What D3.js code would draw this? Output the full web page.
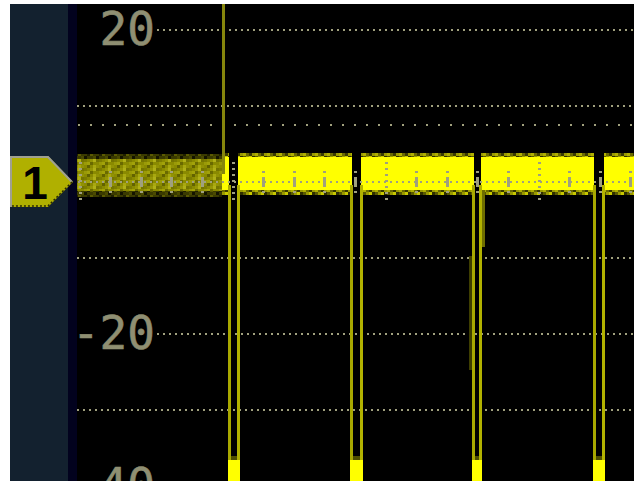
<!DOCTYPE html>
<html>
<head>
<meta charset="utf-8">
<script src="https://cdn.jsdelivr.net/npm/d3@7"></script>
<style>
html,body{margin:0;padding:0;background:#fff;}
svg{display:block;}
</style>
</head>
<body>
<svg id="chart" width="634" height="481"></svg>
<script>
// ---- data ----
const gridLevels = [20, 10, 0, -10, -20, -30, -40];     // V, dotted graticule lines
const labelLevels = [20, -20, -40];                      // labelled levels
const labelTexts = ["20", "-20", "-40"];
const cursorLevel = 7.5;                                 // sparse dotted cursor line
const highLevel = 1.1;                                   // idle level of the trace (V)
const lowLevel = -39;                                    // clipped low level during dips (V)
const persistEnd = 0.93;                                 // end of dim persistence region (div)
const triggerTime = 0.94;                                // upward spike (div)
const fallTimes = [0.980, 1.781, 2.578, 3.366];          // falling edges (div)
const riseTimes = [1.039, 1.843, 2.621, 3.425];          // rising edges (div)
const majorTicks = [0, 1, 2, 3];                         // major graticule columns (div)
const minorTicks = [0.2,0.4,0.6,0.8,1.2,1.4,1.6,1.8,2.2,2.4,2.6,2.8,3.2,3.4,3.6];
// afterglow streaks near the third dip: [time(div), top V, bottom V, colour]
const streaks = [
  {t: 2.642, top: -1.0, bottom: -8.6, color: "#6e6e00"},
  {t: 2.558, top: -9.8, bottom: -24.8, color: "#3e3e00"}
];

// ---- layout ----
const svg = d3.select("#chart");
const plotLeft = 77, plotTop = 4, plotRight = 634, plotBottom = 481;
const x = d3.scaleLinear().domain([0, 1]).range([79.5, 232.5]);
const y = d3.scaleLinear().domain([20, -20]).range([30, 334]);

const defs = svg.append("defs");
defs.append("clipPath").attr("id", "plotclip")
  .append("rect").attr("x", plotLeft).attr("y", plotTop).attr("width", plotRight - plotLeft).attr("height", plotBottom - plotTop);
// speckle textures for the phosphor fringe (pure styling)
const pBright = defs.append("pattern").attr("id", "speckB").attr("patternUnits", "userSpaceOnUse")
  .attr("width", 12).attr("height", 6);
pBright.append("rect").attr("width", 12).attr("height", 6).attr("fill", "#7a7a00");
[[0,0,"#2e2e00"],[3,3,"#b0b000"],[6,0,"#9a9a00"],[9,3,"#3a3a00"],[3,0,"#5a5a00"],[9,0,"#c8c800"],[0,3,"#9a9a00"],[6,3,"#6a6a00"]]
  .forEach(d => pBright.append("rect").attr("x", d[0]).attr("y", d[1]).attr("width", 3).attr("height", 3).attr("fill", d[2]));
const pDim = defs.append("pattern").attr("id", "speckD").attr("patternUnits", "userSpaceOnUse")
  .attr("width", 15).attr("height", 9);
pDim.append("rect").attr("width", 15).attr("height", 9).attr("fill", "#8a8a00");
[[0,0,"#6a6a00"],[3,3,"#a8a810"],[6,6,"#747400"],[9,0,"#9a9a08"],[12,3,"#626200"],[3,6,"#b0b018"],[9,6,"#7c7c00"],[12,0,"#a2a20a"],[6,3,"#929204"],[0,6,"#969606"]]
  .forEach(d => pDim.append("rect").attr("x", d[0]).attr("y", d[1]).attr("width", 3).attr("height", 3).attr("fill", d[2]));
const pDimEdge = defs.append("pattern").attr("id", "speckE").attr("patternUnits", "userSpaceOnUse")
  .attr("width", 12).attr("height", 6);
pDimEdge.append("rect").attr("width", 12).attr("height", 6).attr("fill", "#3a3a00");
[[0,0,"#141400"],[6,3,"#5a5a00"],[9,0,"#4a4a00"],[3,3,"#202000"]]
  .forEach(d => pDimEdge.append("rect").attr("x", d[0]).attr("y", d[1]).attr("width", 3).attr("height", 3).attr("fill", d[2]));

// panels
svg.append("rect").attr("x", 0).attr("y", 0).attr("width", 634).attr("height", 481).attr("fill", "#ffffff");
svg.append("rect").attr("x", 10).attr("y", 4).attr("width", 58).attr("height", 477).attr("fill", "#13212f");
svg.append("rect").attr("x", 68).attr("y", 4).attr("width", 9).attr("height", 477).attr("fill", "#02021e");
svg.append("rect").attr("x", plotLeft).attr("y", plotTop).attr("width", plotRight - plotLeft).attr("height", plotBottom - plotTop).attr("fill", "#000000");

const plot = svg.append("g").attr("clip-path", "url(#plotclip)").attr("shape-rendering", "crispEdges");
const gridCol = "#a0a07e";

// horizontal dotted graticule
plot.selectAll("line.grid").data(gridLevels.filter(v => v !== 0)).join("line")
  .attr("class", "grid")
  .attr("x1", v => labelLevels.includes(v) ? 157 : plotLeft)
  .attr("x2", plotRight)
  .attr("y1", v => Math.round(y(v)) ).attr("y2", v => Math.round(y(v)))
  .attr("stroke", gridCol).attr("stroke-width", 2).attr("stroke-dasharray", "2,4");

plot.append("line")
  .attr("x1", plotLeft + 1).attr("x2", plotRight)
  .attr("y1", Math.round(y(cursorLevel))).attr("y2", Math.round(y(cursorLevel)))
  .attr("stroke", gridCol).attr("stroke-width", 2).attr("stroke-dasharray", "2,10");

// labels
plot.selectAll("text.lab").data(labelLevels).join("text")
  .attr("class", "lab")
  .attr("x", 155).attr("y", v => y(v) + 14.5)
  .attr("text-anchor", "end")
  .attr("font-family", "DejaVu Sans Mono")
  .attr("font-size", 46)
  .attr("fill", "#8f8f72")
  .attr("stroke", "#8f8f72").attr("stroke-width", 0.6)
  .text((v, i) => labelTexts[i]);

// ---- trace ----
// dim persistence region
const dim = plot.append("g");
const dimC = highLevel - 0.25;
dim.append("rect").attr("x", plotLeft).attr("width", x(persistEnd) - plotLeft)
  .attr("y", y(dimC + 2.8)).attr("height", y(dimC - 2.8) - y(dimC + 2.8))
  .attr("fill", "url(#speckE)");
dim.append("rect").attr("x", plotLeft).attr("width", x(persistEnd) - plotLeft)
  .attr("y", y(dimC + 2.2)).attr("height", y(dimC - 2.0) - y(dimC + 2.2))
  .attr("fill", "url(#speckD)");

// bright segments
const segStarts = [persistEnd].concat(riseTimes);
const segEnds = fallTimes.concat([3.7]);
const segs = segStarts.map((s, i) => [s, segEnds[i]]);
const bandLayers = [
  {half: 2.75, color: "url(#speckB)"},
  {half: 2.15, color: "#ffff00"}
];
bandLayers.forEach(L => {
  plot.selectAll(null).data(segs).join("rect")
    .attr("x", d => x(d[0])).attr("width", d => x(d[1]) - x(d[0]))
    .attr("y", y(highLevel + L.half)).attr("height", y(highLevel - L.half) - y(highLevel + L.half))
    .attr("fill", L.color);
});

// trigger spike
plot.append("line")
  .attr("x1", x(triggerTime)).attr("x2", x(triggerTime))
  .attr("y1", plotTop).attr("y2", y(highLevel))
  .attr("stroke", "#86860c").attr("stroke-width", 3);

// afterglow streaks
plot.selectAll("line.streak").data(streaks).join("line")
  .attr("class", "streak")
  .attr("x1", d => x(d.t)).attr("x2", d => x(d.t))
  .attr("y1", d => y(d.top)).attr("y2", d => y(d.bottom))
  .attr("stroke", d => d.color).attr("stroke-width", 3);

// clipped low level during dips
plot.selectAll("rect.lowglow").data(fallTimes).join("rect")
  .attr("class", "lowglow")
  .attr("x", (d, i) => x(d) - 1.5).attr("width", (d, i) => x(riseTimes[i]) - x(d) + 3)
  .attr("y", y(lowLevel + 3.0)).attr("height", plotBottom - y(lowLevel + 3.0))
  .attr("fill", "#4e4e00");
plot.selectAll("rect.low").data(fallTimes).join("rect")
  .attr("class", "low")
  .attr("x", (d, i) => x(d) - 1.5).attr("width", (d, i) => x(riseTimes[i]) - x(d) + 3)
  .attr("y", y(lowLevel + 2.4)).attr("height", plotBottom - y(lowLevel + 2.4))
  .attr("fill", "#ffff00");

// edges
plot.selectAll("line.fall").data(fallTimes).join("line")
  .attr("class", "fall")
  .attr("x1", d => x(d)).attr("x2", d => x(d))
  .attr("y1", y(highLevel - 1.5)).attr("y2", y(lowLevel + 2.4))
  .attr("stroke", "#a8a800").attr("stroke-width", 3);
plot.selectAll("line.rise").data(riseTimes).join("line")
  .attr("class", "rise")
  .attr("x1", d => x(d)).attr("x2", d => x(d))
  .attr("y1", y(highLevel - 1.5)).attr("y2", y(lowLevel + 2.4))
  .attr("stroke", "#b2b200").attr("stroke-width", 3);

// centre graticule on top of trace
plot.append("line")
  .attr("x1", plotLeft + 1).attr("x2", plotRight)
  .attr("y1", Math.round(y(0))).attr("y2", Math.round(y(0)))
  .attr("stroke", gridCol).attr("stroke-width", 2).attr("stroke-dasharray", "2,4");
plot.selectAll("line.minor").data(minorTicks).join("line")
  .attr("class", "minor")
  .attr("x1", d => Math.round(x(d))).attr("x2", d => Math.round(x(d)))
  .attr("y1", 171).attr("y2", 193)
  .attr("stroke", gridCol).attr("stroke-width", 3).attr("stroke-dasharray", "2,4,10,4,2");
plot.selectAll("line.major").data(majorTicks).join("line")
  .attr("class", "major")
  .attr("x1", d => Math.round(x(d))).attr("x2", d => Math.round(x(d)))
  .attr("y1", 162).attr("y2", 202)
  .attr("stroke", gridCol).attr("stroke-width", 3).attr("stroke-dasharray", "2,4");

// channel marker
const my = y(0);
svg.append("path")
  .attr("d", `M10,${my-26} L48,${my-26} L73,${my} L48,${my+25} L10,${my+25} Z`)
  .attr("fill", "#b0b000");
svg.append("path")
  .attr("d", `M11,${my+25} L11,${my-25} L48,${my-25} L72,${my}`)
  .attr("fill", "none").attr("stroke", "#a0a090").attr("stroke-width", 2);
svg.append("path")
  .attr("d", `M72,${my} L48,${my+24} L11,${my+24}`)
  .attr("fill", "none").attr("stroke", "#2a2a00").attr("stroke-width", 1.5).attr("stroke-dasharray", "2,2");
svg.append("text")
  .attr("x", 35).attr("y", my + 16.5)
  .attr("text-anchor", "middle")
  .attr("font-family", "Liberation Sans").attr("font-weight", "bold")
  .attr("font-size", 46).attr("fill", "#000")
  .text("1");
</script>
</body>
</html>
